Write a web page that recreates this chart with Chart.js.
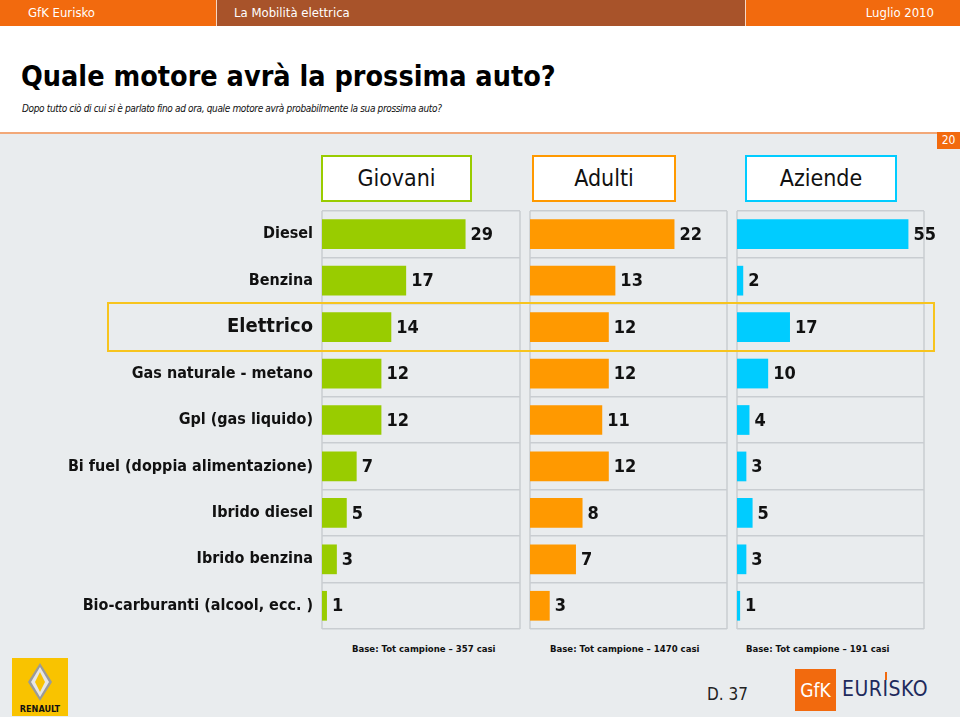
<!DOCTYPE html>
<html>
<head>
<meta charset="utf-8">
<script src="https://cdn.jsdelivr.net/npm/chart.js@4.4.1/dist/chart.umd.min.js"></script>
<style>
  html, body { margin:0; padding:0; }
  body { width:960px; height:717px; position:relative; overflow:hidden; background:#fff;
         font-family:'DejaVu Sans Condensed','DejaVu Sans',sans-serif; }
  .abs { position:absolute; }
  #topbar { left:0; top:0; width:960px; height:26px; background:#F26A0E; }
  #topmid { left:216px; top:0; width:528px; height:26px; background:#A8532A;
            border-left:1px solid #f6d7c4; border-right:1px solid #f6d7c4; }
  .bartxt { color:#fff; font-size:13px; top:5px; line-height:16px; white-space:nowrap; }
  #title { left:21px; top:60px; font-size:28.5px; font-weight:bold; color:#000; white-space:nowrap; }
  #subtitle { left:22px; top:103px; font-size:10px; font-style:italic; color:#111; white-space:nowrap; letter-spacing:-0.35px; }
  #panel { left:0; top:132px; width:960px; height:585px; background:#E9ECEE; border-top:2px solid #F2A878; }
  #pg { right:0; top:132px; width:23px; height:17px; background:#F26A0E; color:#fff; font-size:12px;
        text-align:center; line-height:17px; }
  .hbox { top:155px; height:43px; background:#fff; border:2px solid; text-align:center;
          font-size:23px; line-height:43px; color:#111; box-sizing:content-box; }
  canvas.ch { position:absolute; left:0; top:205px; }
  #hilite { left:107px; top:302px; width:824px; height:46px; border:2.5px solid #F7C41E; z-index:5; pointer-events:none; }
  .base { top:643px; font-size:9.5px; font-weight:bold; color:#111; white-space:nowrap; }
  #dnum { left:707px; top:684px; font-size:17px; color:#222; }
  #gfkbox { left:795px; top:669px; width:41px; height:42px; background:#F26A0E; color:#fff;
            font-size:19px; line-height:42px; text-align:center; }
  #eur { left:842px; top:677px; font-size:21px; color:#1E2A5C; letter-spacing:0.5px; }
  #tick { left:885px; top:672px; width:2px; height:8px; background:#F26A0E; }
</style>
</head>
<body>
<div id="topbar" class="abs"></div>
<div id="topmid" class="abs"></div>
<div class="abs bartxt" style="left:28px">GfK Eurisko</div>
<div class="abs bartxt" style="left:234px">La Mobilità elettrica</div>
<div class="abs bartxt" style="right:26px">Luglio 2010</div>

<div id="title" class="abs">Quale motore avrà la prossima auto?</div>
<div id="subtitle" class="abs">Dopo tutto ciò di cui si è parlato fino ad ora, quale motore avrà probabilmente la sua prossima auto?</div>

<div id="panel" class="abs"></div>
<div id="pg" class="abs">20</div>

<div id="hb0" class="abs hbox" style="left:321px;width:147px;border-color:#99CC00">Giovani</div>
<div id="hb1" class="abs hbox" style="left:532px;width:140px;border-color:#FF9900">Adulti</div>
<div id="hb2" class="abs hbox" style="left:745px;width:148px;border-color:#00CCFF">Aziende</div>

<canvas id="c0" class="ch" width="960" height="430"></canvas>
<canvas id="c1" class="ch" width="960" height="430"></canvas>
<canvas id="c2" class="ch" width="960" height="430"></canvas>
<div id="hilite" class="abs"></div>

<div id="b0" class="abs base" style="left:352px"></div>
<div id="b1" class="abs base" style="left:550px"></div>
<div id="b2" class="abs base" style="left:746px"></div>

<svg class="abs" style="left:12px;top:658px" width="56" height="58" viewBox="0 0 56 58">
  <rect x="0" y="0" width="56" height="58" fill="#F9C300"/>
  <polygon points="28,5 40,24 28,43 16,24" fill="#9a9a9a"/>
  <polygon points="28,9 37,24 28,39 19,24" fill="#e6e6e6"/>
  <polygon points="28,14 33,24 28,34 23,24" fill="#F9C300"/>
  <text x="28" y="54" text-anchor="middle" font-family="DejaVu Sans Condensed, DejaVu Sans" font-weight="bold" font-size="9" fill="#111">RENAULT</text>
</svg>

<div id="dnum" class="abs">D. 37</div>
<div id="gfkbox" class="abs">GfK</div>
<div id="eur" class="abs">EURISKO</div>
<div id="tick" class="abs"></div>

<script>
// ---- data ----
const categories = ['Diesel','Benzina','Elettrico','Gas naturale - metano','Gpl (gas liquido)',
                    'Bi fuel (doppia alimentazione)','Ibrido diesel','Ibrido benzina','Bio-carburanti (alcool, ecc. )'];
const giovani = [29,17,14,12,12,7,5,3,1];
const adulti  = [22,13,12,12,11,12,8,7,3];
const aziende = [55,2,17,10,4,3,5,3,1];
const groupNames = ['Giovani','Adulti','Aziende'];
const baseNotes = ['Base: Tot campione \u2013 357 casi','Base: Tot campione \u2013 1470 casi','Base: Tot campione \u2013 191 casi'];
const highlightCategory = 'Elettrico';

baseNotes.forEach((t,i)=>{ document.getElementById('b'+i).textContent = t; });

const FONT = "'DejaVu Sans Condensed','DejaVu Sans',sans-serif";

const framePlugin = {
  id:'frame',
  beforeDatasetsDraw(chart){
    const {ctx, chartArea:a} = chart;
    ctx.save();
    ctx.strokeStyle = '#c9cdd1';
    ctx.lineWidth = 1.5;
    ctx.beginPath();
    ctx.moveTo(a.left, a.top); ctx.lineTo(a.left, a.bottom);
    ctx.moveTo(a.right, a.top); ctx.lineTo(a.right, a.bottom);
    ctx.stroke();
    ctx.restore();
  }
};
const valuePlugin = {
  id:'values',
  afterDatasetsDraw(chart){
    const {ctx} = chart;
    const meta = chart.getDatasetMeta(0);
    const data = chart.data.datasets[0].data;
    ctx.save();
    ctx.fillStyle = '#111';
    ctx.font = "bold 18px " + FONT;
    ctx.textBaseline = 'middle';
    ctx.textAlign = 'left';
    meta.data.forEach((bar,i)=>{
      ctx.fillText(String(data[i]), bar.x + 5, bar.y + 1);
    });
    ctx.restore();
  }
};

function makeChart(id, values, color, max, left, right, withLabels){
  return new Chart(document.getElementById(id), {
    type:'bar',
    data:{ labels:categories, datasets:[{ data:values, backgroundColor:color, borderWidth:0,
           categoryPercentage:1, barPercentage:0.64 }]},
    options:{
      indexAxis:'y', responsive:false, animation:false,
      layout:{ padding:{ left:left, right:960-right, top:6, bottom:6 } },
      plugins:{ legend:{display:false}, tooltip:{enabled:false} },
      scales:{
        x:{ display:false, min:0, max:max },
        y:{
          border:{ display:false },
          grid:{ color:'#c9cdd1', lineWidth:1.5, drawTicks:false, offset:true },
          ticks:{
            display:withLabels, color:'#111', padding:9,
            font:(c)=> (categories[c.index]===highlightCategory)
                 ? {family:FONT, size:20, weight:'bold'}
                 : {family:FONT, size:16, weight:'bold'}
          },
          afterFit:(s)=>{ s.width = withLabels ? 322 : 0; s.paddingTop = 0; s.paddingBottom = 0; }
        }
      }
    },
    plugins:[framePlugin, valuePlugin]
  });
}

makeChart('c0', giovani, '#99CC00', 40, 0, 520, true);
makeChart('c1', adulti,  '#FF9900', 30, 530, 727, false);
makeChart('c2', aziende, '#00CCFF', 60, 737, 924, false);
</script>
</body>
</html>
